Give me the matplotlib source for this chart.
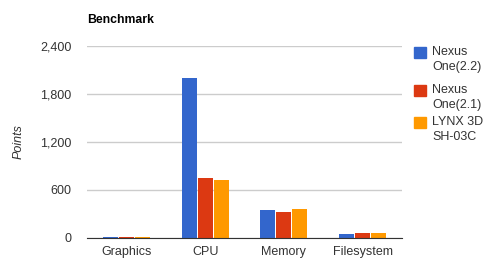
import numpy as np
import matplotlib
matplotlib.use("Agg")
import matplotlib.pyplot as plt
from matplotlib.patches import Rectangle

# data
categories = ["Graphics", "CPU", "Memory", "Filesystem"]
series_names = ["Nexus\nOne(2.2)", "Nexus\nOne(2.1)", "LYNX 3D\nSH-03C"]
nexus_22 = [15, 2000, 350, 50]
nexus_21 = [15, 755, 325, 65]
lynx_3d = [15, 725, 362, 65]
y_ticks = [0, 600, 1200, 1800, 2400]

colors = ["#3366cc", "#dc3912", "#ff9900"]

plt.rcParams['font.family'] = ['Liberation Sans', 'DejaVu Sans']

fig = plt.figure(figsize=(4.94, 2.63), dpi=100)
ax = fig.add_axes([87/494, 25/263, 315/494, 192/263])

x = np.arange(len(categories))
w = 0.19
step = 0.203
for i, vals in enumerate([nexus_22, nexus_21, lynx_3d]):
    ax.bar(x + (i - 1) * step, vals, width=w, color=colors[i], zorder=3)

ax.set_xlim(-0.5, 3.5)
ax.set_ylim(0, 2400)
ax.set_yticks(y_ticks)
ax.set_yticklabels([f"{v:,}" for v in y_ticks])
ax.set_xticks(x)
ax.set_xticklabels(categories)
ax.grid(axis='y', color='#cccccc', linewidth=1, zorder=0)
for s in ['top', 'right', 'left']:
    ax.spines[s].set_visible(False)
ax.spines['bottom'].set_color('#333333')
ax.spines['bottom'].set_zorder(4)
ax.tick_params(axis='both', length=0, labelsize=9, colors='#333333', pad=6)
ax.tick_params(axis='y', pad=11)

ax.set_ylabel("Points", style='italic', fontsize=9, color='#333333', labelpad=11)
fig.text(87/494, 1 - 20/263, "Benchmark", fontsize=8.8, fontweight='bold', va='center', ha='left')

# legend
leg_y = [47, 85, 117]
for i, name in enumerate(series_names):
    top = leg_y[i]
    fig.patches.append(Rectangle((414/494, 1 - (top + 11)/263), 12/494, 11/263,
                                 transform=fig.transFigure, color=colors[i]))
    fig.text(432/494, 1 - (top - 1)/263, name, fontsize=9, va='top', ha='left',
             color='#333333', linespacing=1.3)

fig.savefig("out.png", dpi=100)
